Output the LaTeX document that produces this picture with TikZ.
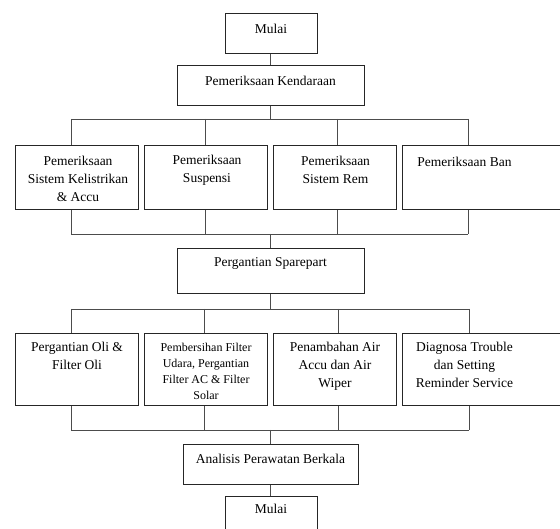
\documentclass[tikz,border=0pt]{standalone}
\usepackage{fontspec}
\setmainfont{Liberation Serif}
\begin{document}
\begin{tikzpicture}[x=1pt,y=-1pt,
  box/.style={draw=black!85, line width=0.8pt, anchor=north west, inner sep=0pt},
  txt/.style={anchor=north, inner sep=0pt, align=center, font=\fontsize{13.5}{18.3}\selectfont},
  txtsm/.style={anchor=north, inner sep=0pt, align=center, font=\fontsize{12}{16}\selectfont},
  conn/.style={draw=black!70, line width=0.8pt}]
\useasboundingbox (0,0) rectangle (560,529);
\clip (0,0) rectangle (560,529);
% boxes
\node[box, minimum width=92, minimum height=40] (m1) at (225,13) {};
\node[box, minimum width=187, minimum height=40] (kend) at (177,65) {};
\node[box, minimum width=123, minimum height=64] (b1) at (15,145) {};
\node[box, minimum width=123, minimum height=64] (b2) at (144,145) {};
\node[box, minimum width=123, minimum height=64] (b3) at (273,145) {};
\node[box, minimum width=170, minimum height=64] (b4) at (402,145) {};
\node[box, minimum width=187, minimum height=45] (spare) at (177,248) {};
\node[box, minimum width=123, minimum height=72] (c1) at (15,333) {};
\node[box, minimum width=123, minimum height=72] (c2) at (144,333) {};
\node[box, minimum width=123, minimum height=72] (c3) at (273,333) {};
\node[box, minimum width=170, minimum height=72] (c4) at (402,333) {};
\node[box, minimum width=175, minimum height=40] (anal) at (183,444) {};
\node[box, minimum width=92, minimum height=45] (m2) at (225,496) {};
% texts
\node[txt] (m1t) at (271,23.5) {Mulai};
\node[txt] (kendt) at (270.5,75.5) {Pemeriksaan Kendaraan};
\node[txt] (b1t) at (78,155.5) {Pemeriksaan\\Sistem Kelistrikan\\\& Accu};
\node[txt] (b2t) at (207,155) {Pemeriksaan\\Suspensi};
\node[txt] (b3t) at (335.5,155.5) {Pemeriksaan\\Sistem Rem};
\node[txt] (b4t) at (464.5,156.5) {Pemeriksaan Ban};
\node[txt] (sparet) at (270.5,257.5) {Pergantian Sparepart};
\node[txt] (c1t) at (77,341.5) {Pergantian Oli \&\\Filter Oli};
\node[txtsm] (c2t) at (206,343) {Pembersihan Filter\\Udara, Pergantian\\Filter AC \& Filter\\Solar};
\node[txt] (c3t) at (335,341.5) {Penambahan Air\\Accu dan Air\\Wiper};
\node[txt] (c4t) at (464.5,341.5) {Diagnosa Trouble\\dan Setting\\Reminder Service};
\node[txt] (analt) at (270.5,453.5) {Analisis Perawatan Berkala};
\node[txt] (m2t) at (271,503.5) {Mulai};
% junction coordinates
\coordinate (j1) at (270,119);
\coordinate (j1a) at (71,119);
\coordinate (j1b) at (205,119);
\coordinate (j1c) at (337,119);
\coordinate (j1d) at (468,119);
\coordinate (j2) at (270,234);
\coordinate (j2a) at (71,234);
\coordinate (j2b) at (205,234);
\coordinate (j2c) at (337,234);
\coordinate (j2d) at (468,234);
\coordinate (j3) at (270,309);
\coordinate (j3a) at (71,309);
\coordinate (j3b) at (204,309);
\coordinate (j3c) at (338,309);
\coordinate (j3d) at (469,309);
\coordinate (j4) at (270,430);
\coordinate (j4a) at (71,430);
\coordinate (j4b) at (204,430);
\coordinate (j4c) at (338,430);
\coordinate (j4d) at (469,430);
% connectors
\draw[conn] (m1.south -| j1) -- (kend.north -| j1);
\draw[conn] (kend.south -| j1) -- (j1);
\draw[conn] (j1a) -- (j1d);
\foreach \p in {j1a,j1b,j1c,j1d} \draw[conn] (\p) -- (\p |- b1.north);
\foreach \p in {j2a,j2b,j2c,j2d} \draw[conn] (\p |- b1.south) -- (\p);
\draw[conn] (j2a) -- (j2d);
\draw[conn] (j2) -- (spare.north -| j2);
\draw[conn] (spare.south -| j3) -- (j3);
\draw[conn] (j3a) -- (j3d);
\foreach \p in {j3a,j3b,j3c,j3d} \draw[conn] (\p) -- (\p |- c1.north);
\foreach \p in {j4a,j4b,j4c,j4d} \draw[conn] (\p |- c1.south) -- (\p);
\draw[conn] (j4a) -- (j4d);
\draw[conn] (j4) -- (anal.north -| j4);
\draw[conn] (anal.south -| j4) -- (m2.north -| j4);
\end{tikzpicture}
\end{document}
